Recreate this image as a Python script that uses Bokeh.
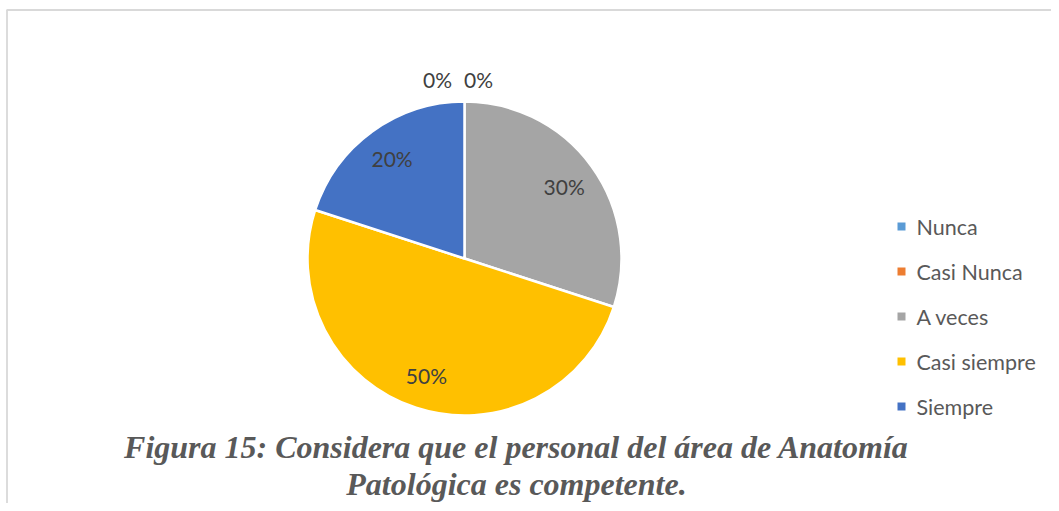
import math
from bokeh.plotting import figure
from bokeh.models import Range1d, ColumnDataSource
from bokeh.core.properties import value
from bokeh.embed import file_html
from bokeh.resources import INLINE

categories = ["Nunca", "Casi Nunca", "A veces", "Casi siempre", "Siempre"]
percents = [0, 0, 30, 50, 20]
colors = ["#5B9BD5", "#ED7D31", "#A5A5A5", "#FFC000", "#4472C4"]
caption_lines = ["Figura 15: Considera que el personal del área de Anatomía",
                 "Patológica es competente."]

W, H = 1051, 503
# data coords: x = picture x, y = H - picture y
p = figure(width=W, height=H, output_backend="svg", toolbar_location=None,
           x_range=Range1d(0, W), y_range=Range1d(0, H),
           min_border=0, outline_line_color=None)
p.axis.visible = False
p.grid.visible = False
p.background_fill_color = "white"
p.border_fill_color = "white"

def Y(sy):
    return H - sy

# chart frame (top and left edges visible)
p.line([6, W], [Y(9.5), Y(9.5)], line_color="#D9D9D9", line_width=1.8)
p.line([6.5, 6.5], [Y(9.5), Y(H + 5)], line_color="#D9D9D9", line_width=1.8)

cx, cy, r = 464, Y(258), 157
total = sum(percents)
starts, ends = [], []
a = math.pi / 2
for v in percents:
    span = 2 * math.pi * v / total
    starts.append(a)
    ends.append(a - span)
    a -= span

src = ColumnDataSource(dict(start=starts, end=ends, color=colors, cat=categories))
p.wedge(x=cx, y=cy, radius=r, radius_units="screen", start_angle="start",
        end_angle="end", direction="clock", fill_color="color",
        line_color="white", line_width=2.5, source=src)

# data labels
lx, ly = [], []
zero_offsets = [-27, 14]
zi = 0
for v, s, e in zip(percents, starts, ends):
    if v == 0:
        lx.append(cx + zero_offsets[zi]); ly.append(Y(79)); zi += 1
    else:
        mid = (s + e) / 2
        rr = r * 0.785
        lx.append(cx + rr * math.cos(mid)); ly.append(cy + rr * math.sin(mid))
labels = [f"{v}%" for v in percents]
p.text(x=lx, y=ly, text=labels, text_align="center", text_baseline="middle",
       text_font=value("Lato"), text_font_size="21px", text_color="#404040")

# legend
leg_y = [Y(226 + 45 * i) for i in range(len(categories))]
p.scatter(x=[901] * len(categories), y=leg_y, marker="square", size=8,
          fill_color=colors, line_color=None)
p.text(x=[916] * len(categories), y=leg_y, text=categories, text_align="left",
       text_baseline="middle", text_font=value("Lato"),
       text_font_size="21.5px", text_color="#595959")

# caption
p.text(x=[516, 516], y=[Y(446), Y(483)], text=caption_lines, text_align="center",
       text_baseline="middle", text_font=value("Liberation Serif"),
       text_font_size="32px", text_font_style="bold italic", text_color="#595959")

open("out.html", "w").write(file_html(p, INLINE))
